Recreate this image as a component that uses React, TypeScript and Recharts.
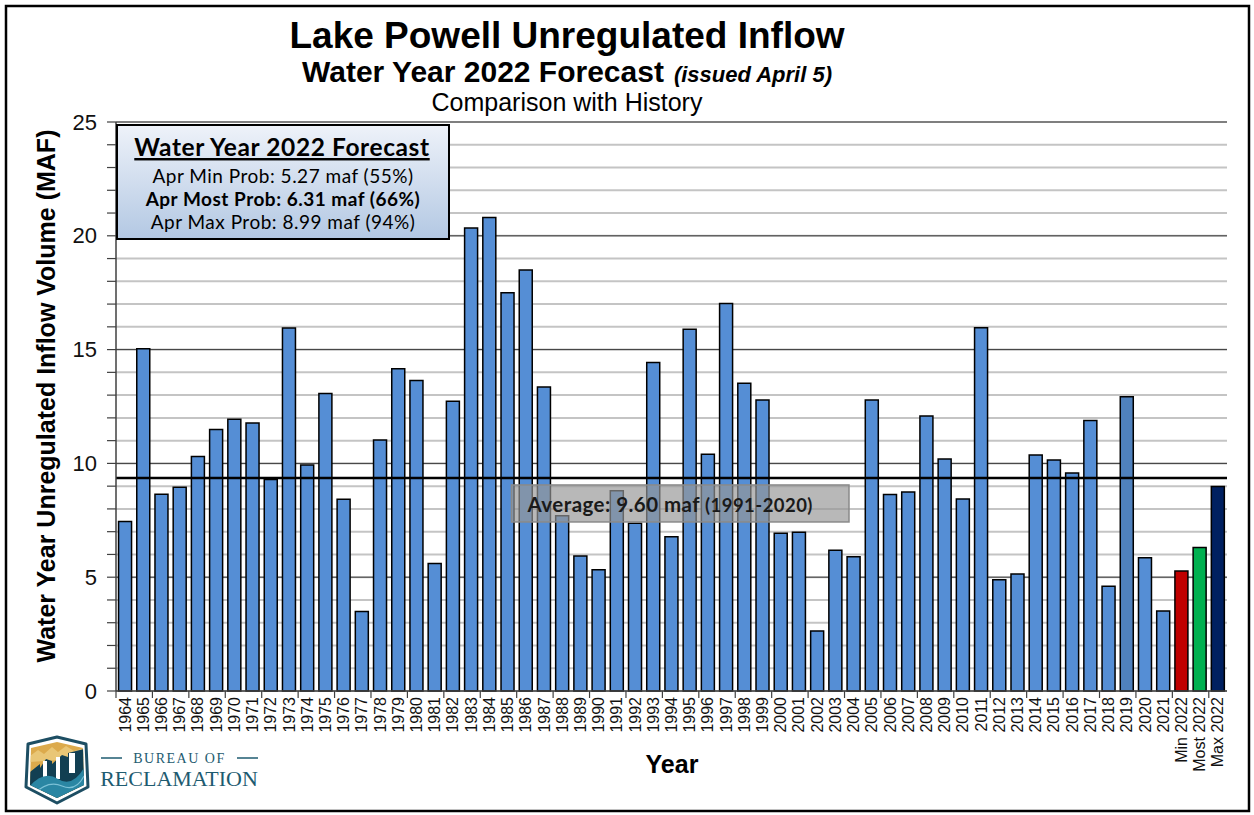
import React from "react";
import {
  BarChart,
  Bar,
  Cell,
  XAxis,
  YAxis,
  CartesianGrid,
  ReferenceLine,
} from "recharts";

// ---------- DATA ----------
const categories: string[] = [
  "1964", "1965", "1966", "1967", "1968", "1969", "1970", "1971", "1972", "1973",
  "1974", "1975", "1976", "1977", "1978", "1979", "1980", "1981", "1982", "1983",
  "1984", "1985", "1986", "1987", "1988", "1989", "1990", "1991", "1992", "1993",
  "1994", "1995", "1996", "1997", "1998", "1999", "2000", "2001", "2002", "2003",
  "2004", "2005", "2006", "2007", "2008", "2009", "2010", "2011", "2012", "2013",
  "2014", "2015", "2016", "2017", "2018", "2019", "2020", "2021",
  "Min 2022", "Most 2022", "Max 2022",
];

const inflowMaf: number[] = [
  7.45, 15.04, 8.64, 8.95, 10.3, 11.49, 11.94, 11.77, 9.29, 15.95,
  9.93, 13.07, 8.42, 3.49, 11.03, 14.16, 13.64, 5.6, 12.73, 20.34,
  20.8, 17.5, 18.5, 13.36, 7.7, 5.93, 5.33, 8.8, 7.37, 14.43,
  6.78, 15.89, 10.4, 17.03, 13.52, 12.79, 6.93, 6.97, 2.64, 6.18,
  5.9, 12.79, 8.63, 8.74, 12.08, 10.19, 8.44, 15.96, 4.89, 5.14,
  10.37, 10.15, 9.58, 11.89, 4.6, 12.93, 5.86, 3.51,
  5.27, 6.31, 8.99,
];

const yTicks: number[] = [
  0, 1, 2, 3, 4, 5, 6, 7, 8, 9, 10, 11, 12, 13, 14, 15, 16, 17, 18, 19, 20,
  21, 22, 23, 24, 25,
];
const yMajorTicks: number[] = [5, 10, 15, 20, 25];

const forecastLabels: string[] = ["Min", "Most", "Max"];
const forecastValues: number[] = [5.27, 6.31, 8.99];
const forecastPercents: number[] = [55, 66, 94];

const averageValue = 9.6;
const averagePeriod = "1991-2020";
const averageLineLevel = 9.36; // where the line is drawn in the picture

const data = categories.map((c, i) => ({ year: c, value: inflowMaf[i] }));

// ---------- STYLE / LAYOUT ----------
const W = 1254;
const H = 815;
const PLOT_LEFT = 116;
const PLOT_RIGHT = 1227;
const PLOT_TOP = 122;
const PLOT_BOTTOM = 691;
const BAND = (PLOT_RIGHT - PLOT_LEFT) / categories.length;

const BASE_BLUE = "#558ed5";
const specialColors: Record<string, string> = {
  "2019": "#4f81bd",
  "Min 2022": "#c00000",
  "Most 2022": "#00b050",
  "Max 2022": "#002060",
};

const ARIAL = "'Liberation Sans', Arial, sans-serif";
const CALIBRI = "Lato, 'Open Sans', sans-serif";
const SERIF = "'Liberation Serif', 'DejaVu Serif', serif";

const XTick = (props: any) => {
  const { x, payload, index } = props;
  const ty = PLOT_BOTTOM + 6;
  return (
    <g>
      {index % 2 === 0 && (
        <line
          x1={x - BAND / 2}
          x2={x - BAND / 2}
          y1={PLOT_BOTTOM}
          y2={PLOT_BOTTOM + 7}
          stroke="#404040"
          strokeWidth={1.2}
        />
      )}
      <text
        x={x}
        y={ty}
        transform={`rotate(-90 ${x} ${ty})`}
        textAnchor="end"
        dominantBaseline="central"
        fontFamily={ARIAL}
        fontSize={16}
        fill="#111"
      >
        {payload.value}
      </text>
    </g>
  );
};

const YTick = (props: any) => {
  const { y, payload } = props;
  if (payload.value % 5 !== 0) return <g />;
  return (
    <text
      x={PLOT_LEFT - 19}
      y={y}
      textAnchor="end"
      dominantBaseline="central"
      fontFamily={ARIAL}
      fontSize={22}
      fill="#111"
    >
      {payload.value}
    </text>
  );
};

const AverageLabel = (props: any) => {
  const vb = props.viewBox || {};
  const left = (vb.x ?? PLOT_LEFT) + 395.5;
  const top = (vb.y ?? 478) + 7;
  return (
    <g>
      <rect
        x={left}
        y={top}
        width={337.5}
        height={37}
        fill="#979797"
        fillOpacity={0.68}
        stroke="#8a8a8a"
        strokeWidth={1.5}
      />
      <text
        x={left + 16}
        y={top + 27}
        fontFamily={CALIBRI}
        fontWeight={700}
        fontSize={20.5}
        letterSpacing={0.45}
        fill="#1a1a1a"
      >
        <tspan>{`Average: ${averageValue.toFixed(2)} maf `}</tspan>
        <tspan fontSize={18.5}>{`(${averagePeriod})`}</tspan>
      </text>
    </g>
  );
};

const Logo = () => (
  <g>
    <defs>
      <clipPath id="shieldClip">
        <path d="M31,748 L57,742 L83,748 L84,785 L57,798 L30,785 Z" />
      </clipPath>
    </defs>
    <path
      d="M28,744 L57,737 L86,744 L88,787 L57,803 L26,787 Z"
      fill="#ffffff"
      stroke="#1d4e63"
      strokeWidth={3}
      strokeLinejoin="round"
    />
    <g clipPath="url(#shieldClip)">
      <rect x={28} y={740} width={60} height={62} fill="#dcaa4c" />
      <path d="M30,756 L38,750 L44,754 L52,747 L58,752 L66,746 L74,751 L84,748 L84,758 L30,762 Z" fill="#e9c676" />
      <path
        d="M30,772 L40,764 L40,768 L46,759 L52,761 L52,764 L62,755 L68,757 L68,753 L84,749 L84,802 L30,802 Z"
        fill="#123f52"
      />
      <rect x={43} y={761} width={4} height={20} fill="#ffffff" />
      <rect x={56} y={757} width={4} height={22} fill="#ffffff" />
      <rect x={69} y={753} width={6} height={20} fill="#ffffff" />
      <path d="M30,786 Q44,770 58,779 T84,768 L84,802 L30,802 Z" fill="#2a86a3" />
      <path d="M34,794 Q48,780 62,786 T84,776" fill="none" stroke="#7cc1d6" strokeWidth={1.2} />
    </g>
    <line x1={101} x2={122} y1={758} y2={758} stroke="#1e5b70" strokeWidth={1.5} />
    <line x1={237} x2={258} y1={758} y2={758} stroke="#1e5b70" strokeWidth={1.5} />
    <text
      x={179.5}
      y={763}
      textAnchor="middle"
      fontFamily={SERIF}
      fontSize={14}
      letterSpacing={1.5}
      fill="#1e5b70"
    >
      BUREAU OF
    </text>
    <text
      x={179}
      y={786}
      textAnchor="middle"
      fontFamily={SERIF}
      fontSize={22}
      fill="#1e5b70"
    >
      RECLAMATION
    </text>
  </g>
);

export default function App() {
  return (
    <div
      style={{
        position: "absolute",
        left: 0,
        top: 0,
        width: W,
        height: H,
        background: "#ffffff",
      }}
    >
      <BarChart
        width={W}
        height={H}
        data={data}
        margin={{ top: PLOT_TOP, right: W - PLOT_RIGHT, bottom: 0, left: 0 }}
        barCategoryGap="14%"
      >
        <CartesianGrid
          vertical={false}
          horizontalValues={yTicks}
          stroke="#c4c4c4"
          strokeWidth={2}
          yAxisId="left"
          xAxisId="bottom"
        />
        <CartesianGrid
          vertical={false}
          horizontalValues={yMajorTicks}
          stroke="#3a3a3a"
          strokeWidth={1}
          yAxisId="left"
          xAxisId="bottom"
        />
        <XAxis
          xAxisId="bottom"
          dataKey="year"
          type="category"
          interval={0}
          height={H - PLOT_BOTTOM}
          tick={<XTick />}
          tickLine={false}
          axisLine={{ stroke: "#404040", strokeWidth: 1.5 }}
        />
        <XAxis
          xAxisId="top"
          orientation="top"
          dataKey="year"
          type="category"
          height={0}
          tick={false}
          tickLine={false}
          axisLine={{ stroke: "#909090", strokeWidth: 2 }}
        />
        <YAxis
          yAxisId="left"
          type="number"
          domain={[0, 25]}
          ticks={yTicks}
          interval={0}
          width={PLOT_LEFT}
          tick={<YTick />}
          tickSize={9}
          tickLine={{ stroke: "#404040", strokeWidth: 1.2 }}
          axisLine={{ stroke: "#404040", strokeWidth: 1.5 }}
        />
        <YAxis
          yAxisId="right"
          orientation="right"
          type="number"
          domain={[0, 25]}
          width={0}
          tick={false}
          tickLine={false}
          axisLine={{ stroke: "#909090", strokeWidth: 2 }}
        />
        <Bar
          dataKey="value"
          xAxisId="bottom"
          yAxisId="left"
          isAnimationActive={false}
          stroke="#000000"
          strokeWidth={1.5}
        >
          {data.map((d) => (
            <Cell key={d.year} fill={specialColors[d.year] || BASE_BLUE} />
          ))}
        </Bar>
        <ReferenceLine
          y={averageLineLevel}
          xAxisId="bottom"
          yAxisId="left"
          stroke="#000000"
          strokeWidth={2.5}
          label={<AverageLabel />}
        />
      </BarChart>

      <svg
        width={W}
        height={H}
        style={{ position: "absolute", left: 0, top: 0, pointerEvents: "none" }}
      >
        <defs>
          <linearGradient id="legendGrad" x1="0" y1="0" x2="0" y2="1">
            <stop offset="0%" stopColor="#eef2f9" />
            <stop offset="100%" stopColor="#b3c8e3" />
          </linearGradient>
        </defs>
        {/* outer frame */}
        <rect x={6} y={6} width={1243} height={805} fill="none" stroke="#000" strokeWidth={2.5} />

        {/* titles */}
        <text x={567} y={48} textAnchor="middle" fontFamily={ARIAL} fontWeight={700} fontSize={37} fill="#000">
          Lake Powell Unregulated Inflow
        </text>
        <text x={567} y={82} textAnchor="middle" fontFamily={ARIAL} fontWeight={700} fontSize={30} fill="#000">
          <tspan>Water Year 2022 Forecast</tspan>
          <tspan fontSize={22} fontStyle="italic" dx={10}>
            (issued April 5)
          </tspan>
        </text>
        <text x={567} y={111} textAnchor="middle" fontFamily={ARIAL} fontSize={25} fill="#000">
          Comparison with History
        </text>

        {/* axis titles */}
        <text
          x={46}
          y={396}
          transform="rotate(-90 46 396)"
          textAnchor="middle"
          dominantBaseline="central"
          fontFamily={ARIAL}
          fontWeight={700}
          fontSize={25}
          fill="#000"
        >
          Water Year Unregulated Inflow Volume (MAF)
        </text>
        <text x={672} y={773} textAnchor="middle" fontFamily={ARIAL} fontWeight={700} fontSize={25} fill="#000">
          Year
        </text>

        {/* forecast box */}
        <rect x={117} y={125} width={332} height={114} fill="url(#legendGrad)" stroke="#000" strokeWidth={2} />
        <text
          x={282}
          y={156}
          textAnchor="middle"
          fontFamily={CALIBRI}
          fontWeight={700}
          fontSize={24.5}
          letterSpacing={0.6}
          fill="#000"
          textDecoration="underline"
        >
          Water Year 2022 Forecast
        </text>
        {forecastLabels.map((lab, i) => (
          <text
            key={lab}
            x={283}
            y={183 + i * 23}
            textAnchor="middle"
            fontFamily={CALIBRI}
            fontWeight={lab === "Most" ? 700 : 400}
            fontSize={19}
            letterSpacing={0.5}
            fill="#000"
          >
            {`Apr ${lab} Prob: ${forecastValues[i].toFixed(2)} maf (${forecastPercents[i]}%)`}
          </text>
        ))}

        <Logo />
      </svg>
    </div>
  );
}
